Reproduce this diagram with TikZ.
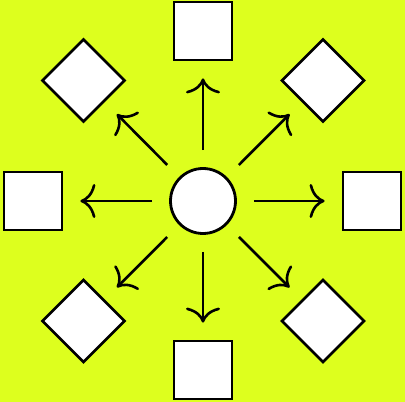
\documentclass[tikz,border=0pt]{standalone}
\usetikzlibrary{arrows.meta}
\definecolor{bgyellow}{HTML}{DDFF1E}
\begin{document}
\begin{tikzpicture}[x=1pt,y=1pt,
  box/.style={draw=black,fill=white,line width=2.8pt,minimum size=58pt,inner sep=0pt},
  dia/.style={box,rotate=45},
  hub/.style={circle,draw=black,fill=white,line width=2.8pt,minimum size=65pt,inner sep=0pt},
  arr/.style={line width=2.6pt,-{Computer Modern Rightarrow[length=15pt,width=34pt,line width=2.6pt]},shorten <=17pt,shorten >=17pt}]
\fill[bgyellow] (0,0) rectangle (405,402);
\useasboundingbox (0,0) rectangle (405,402);
\node[hub] (c) at (203,201) {};
\node[box] (n) at (203,371) {};
\node[box] (s) at (203,32) {};
\node[box] (w) at (33,201) {};
\node[box] (e) at (372,201) {};
\node[dia] (nw) at (83.5,321.5) {};
\node[dia] (ne) at (323,321.5) {};
\node[dia] (sw) at (83.5,81) {};
\node[dia] (se) at (323,81) {};
\foreach \t in {n,s,w,e,nw,ne,sw,se}
  \draw[arr] (c) -- (\t);
\end{tikzpicture}
\end{document}
